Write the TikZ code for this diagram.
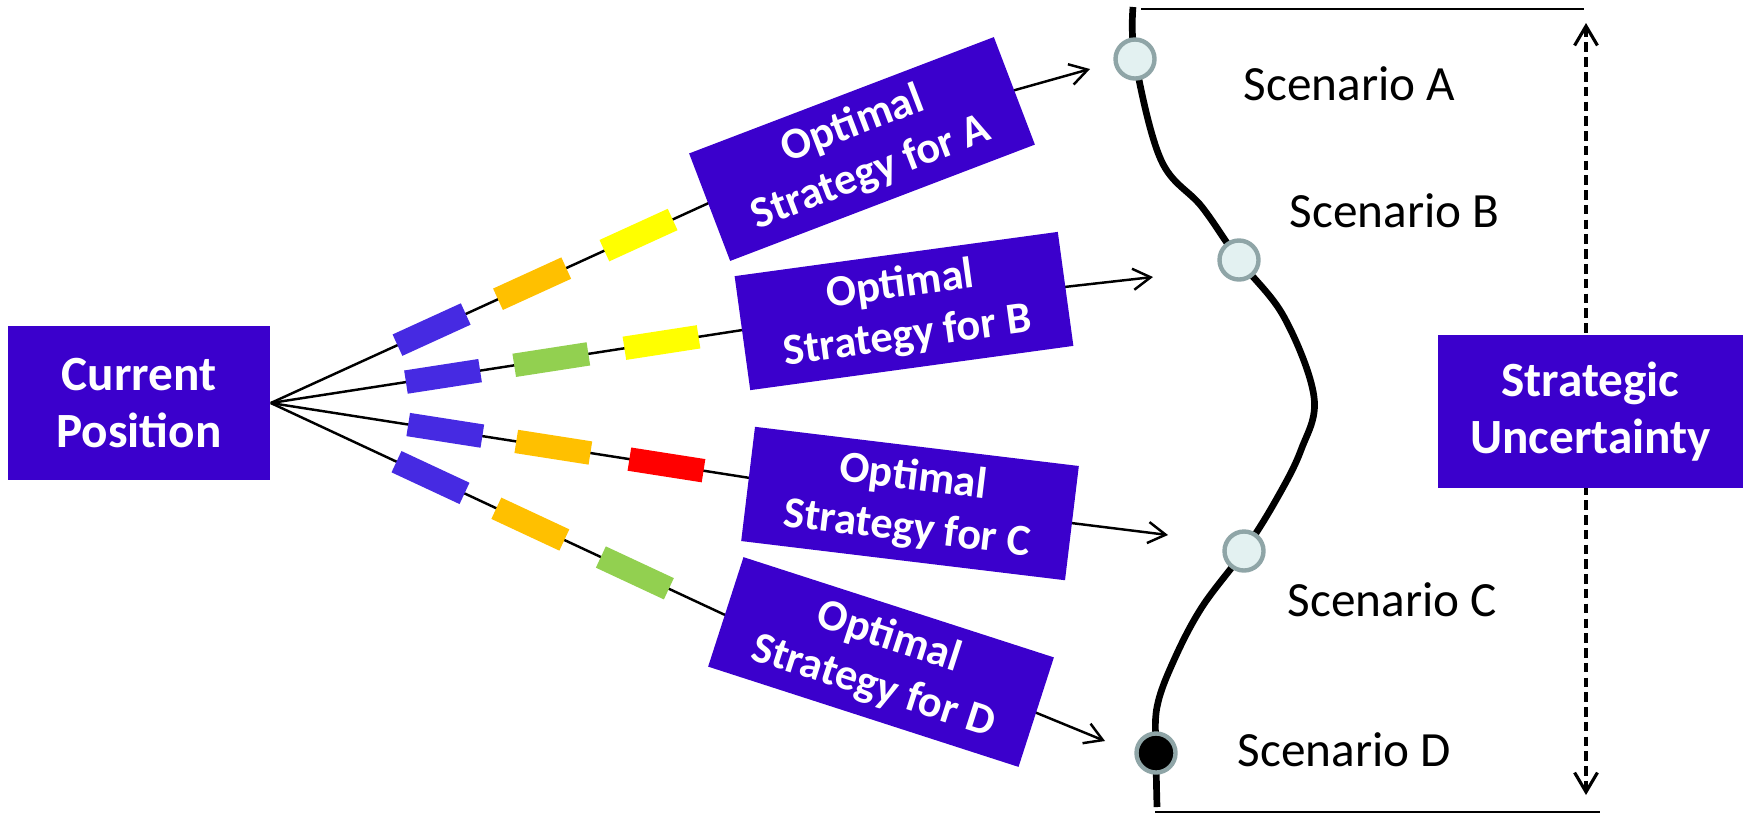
\documentclass[tikz,border=0pt]{standalone}
\usepackage{fontspec}
\setmainfont{Carlito}
\usetikzlibrary{arrows.meta,backgrounds}
\definecolor{boxpurple}{RGB}{59,0,204}
\definecolor{blkblue}{RGB}{70,42,226}
\definecolor{blkorange}{RGB}{255,192,0}
\definecolor{blkyellow}{RGB}{255,255,0}
\definecolor{blkgreen}{RGB}{146,208,80}
\definecolor{blkred}{RGB}{255,0,0}
\definecolor{ringgray}{RGB}{143,165,167}
\definecolor{ringfill}{RGB}{227,241,241}
\begin{document}
\begin{tikzpicture}[x=0.01cm,y=-0.01cm,
  box/.style={fill=boxpurple,text=white,align=center,inner sep=0pt,font=\fontsize{14pt}{16pt}\selectfont\bfseries},
  stratbox/.style={box,minimum width=3.26cm,minimum height=1.15cm,font=\fontsize{12.6pt}{14.7pt}\selectfont\bfseries},
  blk/.style={minimum width=0.75cm,minimum height=0.235cm,inner sep=0pt,sloped,draw=none},
  conn/.style={line width=0.7pt,black},
  arr/.style={conn,-{Straight Barb[length=5pt,width=6pt]}},
  dasharr/.style={line width=0.9pt,dash pattern=on 2.7pt off 1.5pt,{Straight Barb[length=5.5pt,width=6.5pt]}-{Straight Barb[length=5.5pt,width=6.5pt]}},
  scen/.style={circle,minimum size=0.39cm,inner sep=0pt,draw=ringgray,line width=1.25pt,fill=ringfill},
  lbl/.style={anchor=base west,inner sep=0pt,font=\fontsize{14pt}{16pt}\selectfont},
  thinline/.style={line width=0.7pt},
  curveline/.style={line width=1.9pt}
]
\useasboundingbox (0,0) rectangle (1743,814);

% main boxes
\node[box,minimum width=2.62cm,minimum height=1.54cm] (cp) at (139,403) {Current\\Position};
\node[stratbox,rotate=20.9] (sA) at (862,149) {Optimal\\Strategy for A};
\node[stratbox,rotate=7.8] (sB) at (904,311) {Optimal\\Strategy for B};
\node[stratbox,rotate=-6.9] (sC) at (910,503.5) {Optimal\\Strategy for C};
\node[stratbox,rotate=-17.9] (sD) at (881,662) {Optimal\\Strategy for D};
\node[box,minimum width=3.05cm,minimum height=1.53cm] (su) at (1590.5,411.5) {Strategic\\Uncertainty};

% hidden points inside the strategy boxes and arrow ends
\coordinate (inA) at (862,133);
\coordinate (inB) at (904,305);
\coordinate (inC) at (910,503);
\coordinate (inD) at (858,677);
\coordinate (outD) at (881,649);
\coordinate (tA) at (1090,69);
\coordinate (tB) at (1153,277);
\coordinate (tC) at (1168,535);
\coordinate (tD) at (1105,741);
\coordinate (utop) at (1586,23);
\coordinate (ubot) at (1586,795);

\begin{scope}[on background layer]
\draw[conn] (cp.east) -- (inA)
  node[blk,pos=0.272,fill=blkblue]{} node[blk,pos=0.442,fill=blkorange]{} node[blk,pos=0.622,fill=blkyellow]{};
\draw[conn] (cp.east) -- (inB)
  node[blk,pos=0.272,fill=blkblue]{} node[blk,pos=0.443,fill=blkgreen]{} node[blk,pos=0.617,fill=blkyellow]{};
\draw[conn] (cp.east) -- (inC)
  node[blk,pos=0.273,fill=blkblue]{} node[blk,pos=0.442,fill=blkorange]{} node[blk,pos=0.619,fill=blkred]{};
\draw[conn] (cp.east) -- (inD)
  node[blk,pos=0.272,fill=blkblue]{} node[blk,pos=0.442,fill=blkorange]{} node[blk,pos=0.62,fill=blkgreen]{};
\draw[arr] (inA) -- (tA);
\draw[arr] (inB) -- (tB);
\draw[arr] (inC) -- (tC);
\draw[arr] (outD) -- (tD);
\draw[dasharr] (utop) -- (ubot);
\end{scope}

% scenario curve
\draw[curveline] plot[smooth,tension=0.6] coordinates {(1133,7) (1135,59) (1161,160) (1202,207) (1239,260) (1284,317) (1314,397) (1301,450) (1276,500) (1244,551) (1202,607) (1174,660) (1157,707) (1156,753) (1157,807)};

\coordinate (ttl) at (1141,9);
\coordinate (ttr) at (1584,9);
\coordinate (bbl) at (1155,812);
\coordinate (bbr) at (1600,812);
\draw[thinline] (ttl) -- (ttr);
\draw[thinline] (bbl) -- (bbr);

\node[scen] (cA) at (1135,59) {};
\node[scen] (cB) at (1239,260) {};
\node[scen] (cC) at (1244,551) {};
\node[scen,fill=black] (cD) at (1156,753) {};

\node[lbl] (lA) at (1243,100) {Scenario A};
\node[lbl] (lB) at (1289,227) {Scenario B};
\node[lbl] (lC) at (1287,616) {Scenario C};
\node[lbl] (lD) at (1237,766) {Scenario D};
\end{tikzpicture}
\end{document}
